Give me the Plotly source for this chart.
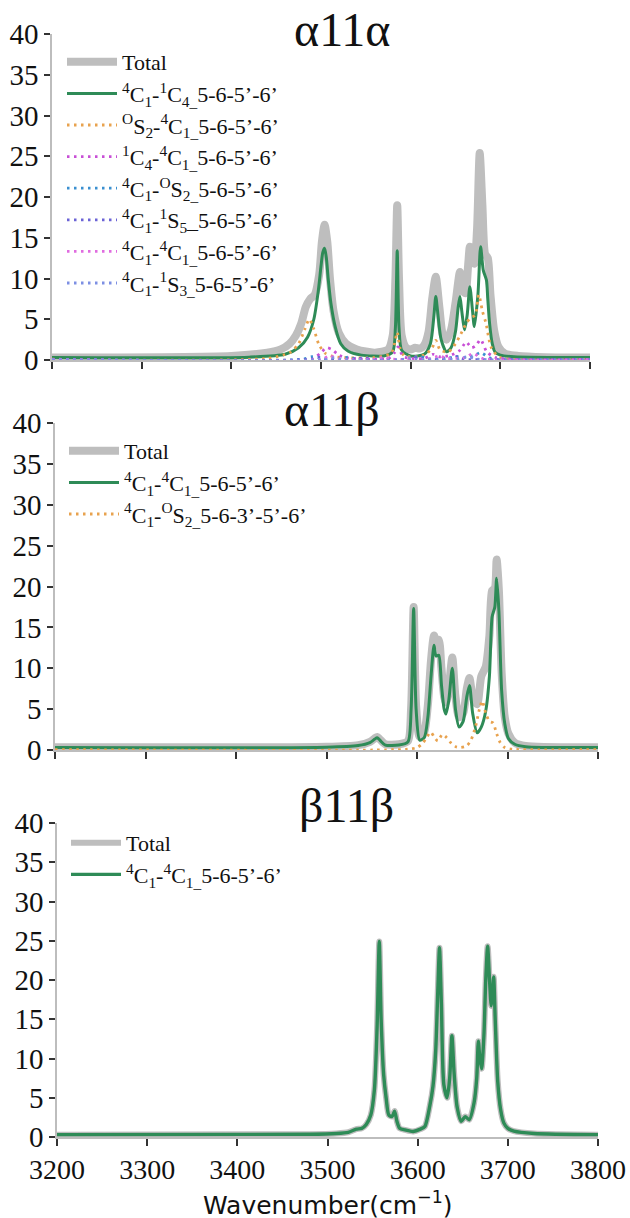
import plotly.graph_objects as go

# ---------------- Panel 1: a11a ----------------
p1_total_x = [3200, 3400, 3440, 3455, 3465, 3472, 3478, 3483, 3488, 3493, 3498, 3501, 3504, 3507, 3510, 3514,
              3520, 3528, 3540, 3560, 3575, 3580, 3583, 3585, 3587, 3590, 3595, 3600, 3605, 3610, 3615, 3620,
              3624, 3628, 3632, 3636, 3640, 3645, 3650, 3655, 3658, 3661, 3664, 3666, 3668, 3671, 3674, 3677,
              3680, 3683, 3686, 3689, 3693, 3698, 3705, 3720, 3750, 3800]
p1_total_y = [0.3, 0.5, 0.9, 1.3, 2.0, 3.0, 4.5, 6.5, 7.5, 8.0, 10.5, 14.5, 16.6, 14.5, 10.0, 6.0,
              3.3, 2.0, 1.3, 0.9, 1.3, 3.0, 10.0, 19.0, 10.0, 3.0, 1.5, 1.3, 1.5, 1.4, 1.8, 3.5,
              7.5, 10.2, 6.5, 3.0, 2.5, 3.7, 7.0, 10.8, 8.5, 8.2, 11.5, 13.9, 12.5, 11.8, 16.0, 25.4,
              19.0, 13.0, 12.5, 8.0, 3.7, 1.6, 0.8, 0.5, 0.35, 0.3]

p1_green_x = [3200, 3420, 3460, 3475, 3485, 3492, 3497, 3500, 3502, 3504, 3506, 3508, 3511, 3516, 3522, 3530,
              3545, 3570, 3580, 3583, 3585, 3587, 3590, 3600, 3615, 3622, 3626, 3628, 3630, 3634, 3640, 3645,
              3650, 3653, 3655, 3657, 3660, 3663, 3666, 3669, 3671, 3675, 3678, 3681, 3684.5, 3686, 3688,
              3691, 3694, 3700, 3715, 3800]
p1_green_y = [0.3, 0.35, 0.7, 1.5, 2.8, 5.0, 8.5, 11.5, 13.2, 13.7, 12.5, 10.0, 7.0, 4.0, 2.0, 1.1,
              0.6, 0.5, 1.0, 4.0, 13.4, 4.0, 1.2, 0.5, 0.7, 2.0, 5.5, 7.8, 6.0, 2.5, 1.0, 1.5,
              3.5, 6.5, 7.8, 6.0, 3.7, 5.5, 9.0, 6.0, 4.1, 8.0, 13.9, 11.0, 9.8, 7.5, 4.5,
              2.0, 1.0, 0.6, 0.4, 0.3]

p1_os2_x = [3200, 3440, 3465, 3475, 3482, 3487, 3492, 3498, 3505, 3515, 3560, 3578, 3582, 3585, 3588, 3593,
            3615, 3624, 3628, 3633, 3642, 3650, 3656, 3662, 3667, 3672, 3676, 3680, 3684, 3690, 3700, 3800]
p1_os2_y = [0.1, 0.2, 0.9, 2.0, 3.8, 5.0, 3.8, 1.8, 0.8, 0.4, 0.3, 0.8, 2.0, 3.4, 1.5, 0.5,
            0.6, 1.5, 2.4, 1.2, 1.0, 2.0, 3.2, 4.5, 5.2, 5.5, 8.0, 6.0, 4.5, 1.5, 0.3, 0.1]

p1_1c4_x = [3200, 3490, 3500, 3506, 3512, 3520, 3530, 3575, 3582, 3586, 3592, 3615, 3625, 3632, 3645, 3655,
            3662, 3668, 3673, 3678, 3685, 3695, 3800]
p1_1c4_y = [0.05, 0.2, 0.9, 1.5, 1.3, 0.6, 0.25, 0.2, 0.9, 1.6, 0.4, 0.2, 0.7, 0.4, 0.6, 1.2,
            2.2, 1.5, 1.8, 2.5, 1.0, 0.3, 0.05]

p1_c1os2_x = [3200, 3480, 3490, 3500, 3520, 3530, 3540, 3600, 3610, 3620, 3640, 3650, 3660, 3672, 3678, 3690, 3800]
p1_c1os2_y = [0.05, 0.1, 0.4, 0.2, 0.1, 0.35, 0.1, 0.1, 0.4, 0.15, 0.2, 0.4, 0.3, 0.6, 0.9, 0.2, 0.05]

p1_1s5_x = [3200, 3490, 3497, 3505, 3540, 3548, 3556, 3600, 3606, 3614, 3645, 3652, 3660, 3700, 3800]
p1_1s5_y = [0.05, 0.1, 0.35, 0.1, 0.1, 0.3, 0.1, 0.1, 0.4, 0.1, 0.1, 0.45, 0.1, 0.05, 0.05]

p1_4c1_x = [3200, 3500, 3510, 3520, 3560, 3570, 3580, 3620, 3632, 3640, 3660, 3670, 3680, 3800]
p1_4c1_y = [0.05, 0.1, 0.5, 0.1, 0.1, 0.3, 0.1, 0.1, 0.5, 0.2, 0.3, 0.8, 0.2, 0.05]

p1_1s3_x = [3200, 3505, 3515, 3525, 3590, 3598, 3606, 3650, 3664, 3675, 3800]
p1_1s3_y = [0.05, 0.05, 0.3, 0.05, 0.05, 0.3, 0.05, 0.1, 0.4, 0.1, 0.05]

# ---------------- Panel 2: a11b ----------------
p2_x = [3200, 3500, 3535, 3548, 3553, 3556, 3559, 3565, 3580, 3590, 3593.5, 3596.3, 3599, 3603, 3608, 3612,
        3615.5, 3618.8, 3621, 3624, 3627, 3630, 3632, 3635, 3639, 3642.5, 3646.5, 3651, 3655, 3658, 3661.5,
        3666.5, 3671, 3676, 3680, 3683, 3686, 3688, 3690.5, 3693.5, 3697, 3701, 3708, 3720, 3800]
p2_total_y = [0.35, 0.4, 0.6, 1.0, 1.4, 1.6, 1.3, 0.7, 0.7, 1.1, 5.2, 17.5, 5.4, 1.6, 2.2, 5.5,
              11.0, 14.0, 13.2, 13.5, 10.0, 6.5, 5.8, 7.5, 11.3, 6.5, 4.0, 4.5, 7.5, 8.8, 6.5,
              5.6, 9.0, 10.2, 14.0, 19.5, 19.8, 23.3, 19.5, 9.5, 4.0, 2.0, 0.9, 0.5, 0.35]
p2_green_y = [0.3, 0.35, 0.55, 0.9, 1.3, 1.5, 1.2, 0.6, 0.6, 1.0, 5.0, 17.3, 5.0, 1.2, 1.5, 4.0,
              9.0, 12.8, 11.5, 11.6, 8.0, 5.0, 4.4, 6.0, 10.0, 5.0, 2.8, 3.5, 6.5, 7.9, 4.5,
              2.1, 2.8, 4.8, 9.0, 16.3, 17.5, 21.0, 17.0, 7.3, 3.2, 1.4, 0.7, 0.4, 0.3]
p2_os2_x = [3200, 3590, 3600, 3606, 3611, 3615, 3619, 3623, 3628, 3633, 3638, 3643, 3648, 3655, 3660, 3665,
            3669, 3672, 3676, 3680, 3684, 3688, 3692, 3697, 3705, 3800]
p2_os2_y = [0.05, 0.1, 0.3, 0.8, 1.6, 2.2, 1.6, 1.1, 1.9, 1.5, 0.8, 0.4, 0.3, 0.5, 1.3, 3.0,
            5.0, 6.0, 4.5, 3.5, 3.3, 2.0, 0.9, 0.3, 0.1, 0.05]

# ---------------- Panel 3: b11b ----------------
p3_x = [3200, 3480, 3510, 3523, 3532, 3538, 3543, 3548, 3552, 3555, 3557.4, 3559.5, 3562.3, 3565, 3568,
        3571.5, 3574.4, 3577, 3580, 3586, 3595, 3603, 3608, 3613.5, 3617, 3620, 3622.3, 3624.2, 3626.3,
        3629, 3632.7, 3635.5, 3638, 3640.5, 3643.8, 3648.3, 3652.7, 3657.2, 3662.6, 3665.5, 3667.3, 3669,
        3670.9, 3673.5, 3675.5, 3677.6, 3679.7, 3681.6, 3683, 3684.3, 3686, 3688.8, 3692, 3695.5, 3700,
        3706.7, 3729, 3800]
p3_y = [0.3, 0.35, 0.45, 0.6, 1.0, 1.1, 1.6, 2.8, 6.0, 14.0, 24.9, 15.0, 7.9, 5.0, 2.8,
        2.6, 3.3, 2.0, 1.1, 0.9, 0.7, 1.0, 1.35, 4.0, 6.5, 11.0, 18.5, 24.1, 17.0,
        6.7, 5.0, 7.5, 12.9, 8.0, 3.8, 2.0, 2.6, 2.2, 4.4, 7.5, 12.2, 10.0,
        8.7, 13.0, 20.0, 24.3, 20.0, 16.7, 18.0, 20.4, 15.0, 7.1, 3.5, 1.8, 1.1,
        0.75, 0.45, 0.3]

titles = ["α11α", "α11β", "β11β"]
x_ticks = [3200, 3300, 3400, 3500, 3600, 3700, 3800]
y_ticks = [0, 5, 10, 15, 20, 25, 30, 35, 40]
x_title = "Wavenumber(cm<sup>−1</sup>)"

SERIF = "Liberation Serif"
GREY = "#BEBEBE"
GREEN = "#2E8B57"

lab_4c1_1c4 = "<sup>4</sup>C<sub>1</sub>-<sup>1</sup>C<sub>4_</sub>5-6-5’-6’"
lab_os2_4c1 = "<sup>O</sup>S<sub>2</sub>-<sup>4</sup>C<sub>1_</sub>5-6-5’-6’"
lab_1c4_4c1 = "<sup>1</sup>C<sub>4</sub>-<sup>4</sup>C<sub>1_</sub>5-6-5’-6’"
lab_4c1_os2 = "<sup>4</sup>C<sub>1</sub>-<sup>O</sup>S<sub>2_</sub>5-6-5’-6’"
lab_4c1_1s5 = "<sup>4</sup>C<sub>1</sub>-<sup>1</sup>S<sub>5</sub>_5-6-5’-6’"
lab_4c1_4c1 = "<sup>4</sup>C<sub>1</sub>-<sup>4</sup>C<sub>1_</sub>5-6-5’-6’"
lab_4c1_1s3 = "<sup>4</sup>C<sub>1</sub>-<sup>1</sup>S<sub>3_</sub>5-6-5’-6’"
lab_4c1_os2_b = "<sup>4</sup>C<sub>1</sub>-<sup>O</sup>S<sub>2_</sub>5-6-3’-5’-6’"

fig = go.Figure()

def line(x, y, name, color, width, dash, xa, ya, leg):
    fig.add_trace(go.Scatter(
        x=x, y=y, name=name, mode="lines",
        line=dict(color=color, width=width, dash=dash, shape="spline", smoothing=0.7),
        xaxis=xa, yaxis=ya, legend=leg, cliponaxis=True))

DOT = "2.5px,4.5px"
# panel 1
line(p1_total_x, p1_total_y, "Total", GREY, 8, "solid", "x", "y", "legend")
line(p1_green_x, p1_green_y, lab_4c1_1c4, GREEN, 3, "solid", "x", "y", "legend")
line(p1_os2_x, p1_os2_y, lab_os2_4c1, "#E8A24E", 2.8, DOT, "x", "y", "legend")
line(p1_1c4_x, p1_1c4_y, lab_1c4_4c1, "#C84FD6", 2.8, DOT, "x", "y", "legend")
line(p1_c1os2_x, p1_c1os2_y, lab_4c1_os2, "#3A8FD0", 2.8, DOT, "x", "y", "legend")
line(p1_1s5_x, p1_1s5_y, lab_4c1_1s5, "#6B63D6", 2.8, DOT, "x", "y", "legend")
line(p1_4c1_x, p1_4c1_y, lab_4c1_4c1, "#E06CE0", 2.8, DOT, "x", "y", "legend")
line(p1_1s3_x, p1_1s3_y, lab_4c1_1s3, "#7D8FE3", 2.8, DOT, "x", "y", "legend")
# panel 2
line(p2_x, p2_total_y, "Total", GREY, 8, "solid", "x2", "y2", "legend2")
line(p2_x, p2_green_y, lab_4c1_4c1, GREEN, 3, "solid", "x2", "y2", "legend2")
line(p2_os2_x, p2_os2_y, lab_4c1_os2_b, "#E8A24E", 2.8, DOT, "x2", "y2", "legend2")
# panel 3
line(p3_x, p3_y, "Total", GREY, 6, "solid", "x3", "y3", "legend3")
line(p3_x, p3_y, lab_4c1_4c1, GREEN, 3.4, "solid", "x3", "y3", "legend3")

H = 1218.0
W = 630.0
panels = [
    dict(x0=52, x1=590, top=34, bot=360),
    dict(x0=55, x1=598, top=423, bot=750),
    dict(x0=57, x1=598, top=823, bot=1137),
]

axis_common = dict(showgrid=False, zeroline=False, showline=True, linecolor="#BDBDBD", linewidth=1.5,
                   ticks="outside", tickcolor="#333333", tickwidth=1.5, automargin=False)

layout = dict(width=630, height=1218, margin=dict(l=0, r=0, t=0, b=0, autoexpand=False),
              paper_bgcolor="white", plot_bgcolor="white", showlegend=True,
              font=dict(family=SERIF, color="#111111"))
for i, p in enumerate(panels):
    sfx = "" if i == 0 else str(i + 1)
    last = (i == 2)
    layout["xaxis" + sfx] = dict(axis_common, domain=[p["x0"] / W, p["x1"] / W], range=[3200, 3800],
                                 tickvals=x_ticks, ticklen=7, showticklabels=last,
                                 tickfont=dict(family=SERIF, size=28, color="#111111"),
                                 anchor="y" + sfx)
    layout["yaxis" + sfx] = dict(axis_common, domain=[1 - p["bot"] / H, 1 - p["top"] / H], range=[0, 40],
                                 tickvals=y_ticks, ticklen=6,
                                 tickfont=dict(family=SERIF, size=29, color="#111111"),
                                 anchor="x" + sfx)

leg_common = dict(bgcolor="rgba(0,0,0,0)", font=dict(family=SERIF, size=22, color="#111111"),
                  xanchor="left", yanchor="top", itemwidth=50, tracegroupgap=0)
layout["legend"] = dict(leg_common, x=62 / W, y=1 - 41 / H)
layout["legend2"] = dict(leg_common, x=64 / W, y=1 - 430 / H)
layout["legend3"] = dict(leg_common, x=66 / W, y=1 - 822 / H)

title_pos = [(342, 30), (332, 410), (346, 805)]
annotations = [
    dict(text=t, x=tx / W, y=1 - ty / H, xref="paper", yref="paper", showarrow=False,
         xanchor="center", yanchor="middle", font=dict(family=SERIF, size=48, color="#111111"))
    for t, (tx, ty) in zip(titles, title_pos)
]
annotations.append(dict(text=x_title, x=(57 + 598) / 2 / W, y=1 - 1203 / H, xref="paper", yref="paper",
                        showarrow=False, xanchor="center", yanchor="middle",
                        font=dict(family="DejaVu Sans", size=25, color="#111111")))
layout["annotations"] = annotations

fig.update_layout(**layout)
fig.write_html("out.html")
